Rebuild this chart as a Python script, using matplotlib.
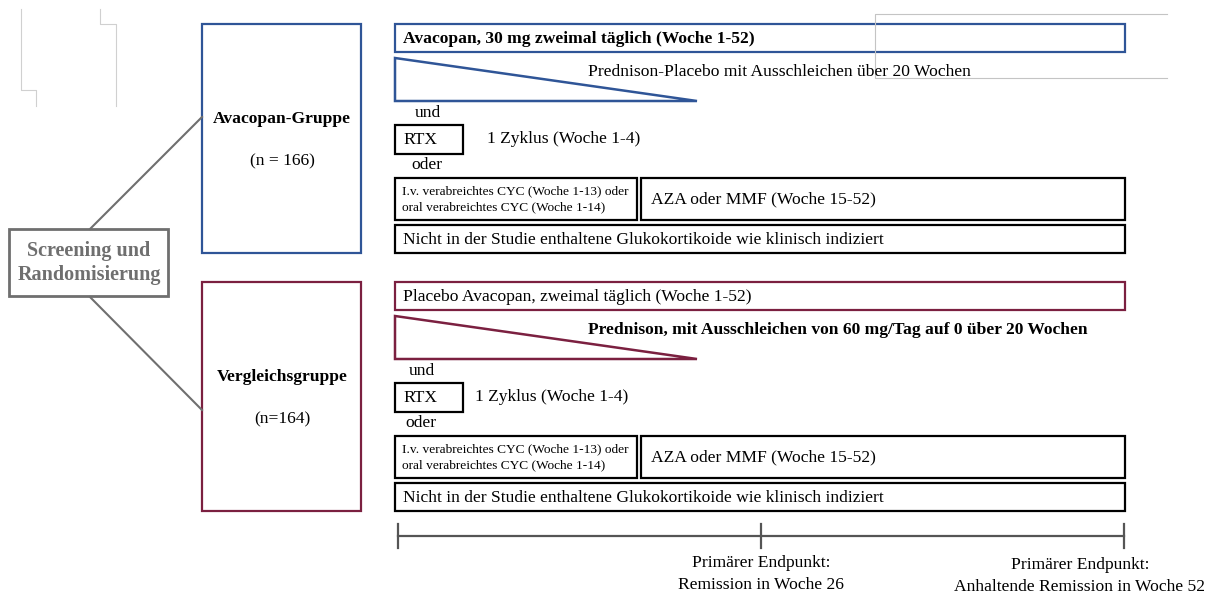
import matplotlib
matplotlib.use("Agg")
import matplotlib.pyplot as plt
from matplotlib.patches import Rectangle, Polygon

plt.rcParams['font.family'] = ['Liberation Serif', 'DejaVu Serif']

# ---- content ----
screening_label = "Screening und\nRandomisierung"
group_names = ["Avacopan-Gruppe", "Vergleichsgruppe"]
group_n = ["(n = 166)", "(n=164)"]
study_drug = ["Avacopan, 30 mg zweimal täglich (Woche 1-52)",
              "Placebo Avacopan, zweimal täglich (Woche 1-52)"]
study_drug_bold = [True, False]
taper_text = ["Prednison-Placebo mit Ausschleichen über 20 Wochen",
              "Prednison, mit Ausschleichen von 60 mg/Tag auf 0 über 20 Wochen"]
taper_bold = [False, True]
rtx_label = "RTX"
rtx_cycle = "1 Zyklus (Woche 1-4)"
cyc_text = "I.v. verabreichtes CYC (Woche 1-13) oder\noral verabreichtes CYC (Woche 1-14)"
maint_text = "AZA oder MMF (Woche 15-52)"
gc_text = "Nicht in der Studie enthaltene Glukokortikoide wie klinisch indiziert"
conj_and, conj_or = "und", "oder"
timeline_weeks = [0, 26, 52]
endpoint_labels = ["Primärer Endpunkt:\nRemission in Woche 26",
                   "Primärer Endpunkt:\nAnhaltende Remission in Woche 52"]

# ---- styles ----
W, H = 1208, 593
BLUE = "#2f5597"
RED = "#7b2040"
GRAY = "#6f6f6f"
FAINT = "#d0d0d0"
FS = 12.6

fig = plt.figure(figsize=(W / 100, H / 100), dpi=100)
ax = fig.add_axes([0, 0, 1, 1])
ax.set_xlim(0, W)
ax.set_ylim(H, 0)
ax.axis("off")


def box(x0, y0, x1, y1, ec, lw=1.6):
    ax.add_patch(Rectangle((x0, y0), x1 - x0, y1 - y0, fill=False, ec=ec, lw=lw))


# faint artefacts
ax.plot([21, 21, 36, 36], [9, 90, 90, 106], color=FAINT, lw=0.8)
ax.plot([100, 100, 116, 116], [9, 24, 24, 106], color=FAINT, lw=0.8)
ax.plot([1167, 875, 875, 1167], [14, 14, 78, 78], color="#c4c4c4", lw=0.8)

# screening box and connectors
box(9, 229, 168, 296, GRAY, lw=2)
ax.text(89, 263, screening_label, ha="center", va="center", fontsize=14.5,
        fontweight="bold", color=GRAY, linespacing=1.3)
ax.plot([90, 202], [229, 117], color=GRAY, lw=1.5)
ax.plot([90, 202], [297, 410], color=GRAY, lw=1.5)

# group boxes
group_tops = [24, 282]
group_colors = [BLUE, RED]
for i in range(2):
    t = group_tops[i]
    c = group_colors[i]
    box(202, t, 361, t + 229, c)
    ax.text(282, t + 95, group_names[i], ha="center", va="center",
            fontsize=FS, fontweight="bold")
    ax.text(282, t + 137, group_n[i], ha="center", va="center", fontsize=FS)

    # study drug bar
    box(395, t, 1125, t + 28, c)
    ax.text(403, t + 15, study_drug[i], ha="left", va="center", fontsize=FS,
            fontweight="bold" if study_drug_bold[i] else "normal")
    # taper triangle
    ax.add_patch(Polygon([(395, t + 34), (395, t + 77), (697, t + 77)],
                         closed=True, fill=False, ec=c, lw=1.8))
    ax.text(588, t + 48, taper_text[i], ha="left", va="center", fontsize=FS,
            fontweight="bold" if taper_bold[i] else "normal")

    dx = 6 if i == 0 else 0
    ax.text(422 + dx, t + 89, conj_and, ha="center", va="center", fontsize=FS)
    box(395, t + 101, 463, t + 130, "black", lw=1.6)
    ax.text(403, t + 116, rtx_label, ha="left", va="center", fontsize=FS)
    ax.text(487 if i == 0 else 475, t + 115, rtx_cycle, ha="left",
            va="center", fontsize=FS)
    ax.text(421 + dx, t + 141, conj_or, ha="center", va="center", fontsize=FS)

    box(395, t + 154, 637, t + 196, "black", lw=1.6)
    ax.text(402, t + 175, cyc_text, ha="left", va="center", fontsize=9.6,
            linespacing=1.4)
    box(641, t + 154, 1125, t + 196, "black", lw=1.6)
    ax.text(651, t + 175, maint_text, ha="left", va="center", fontsize=FS)
    box(395, t + 201, 1125, t + 229, "black", lw=1.6)
    ax.text(403, t + 216, gc_text, ha="left", va="center", fontsize=FS)

# timeline
x0, x1 = 398, 1124
tx = [x0 + w / timeline_weeks[-1] * (x1 - x0) for w in timeline_weeks]
ax.plot([tx[0], tx[-1]], [536, 536], color="#555555", lw=1.6)
for x in tx:
    ax.plot([x, x], [524, 548], color="#555555", lw=1.6)
ax.text(tx[1], 574, endpoint_labels[0], ha="center", va="center",
        fontsize=FS, linespacing=1.5)
ax.text(1080, 576, endpoint_labels[1], ha="center", va="center",
        fontsize=FS, linespacing=1.5)

fig.savefig("out.png", dpi=100, facecolor="white")
